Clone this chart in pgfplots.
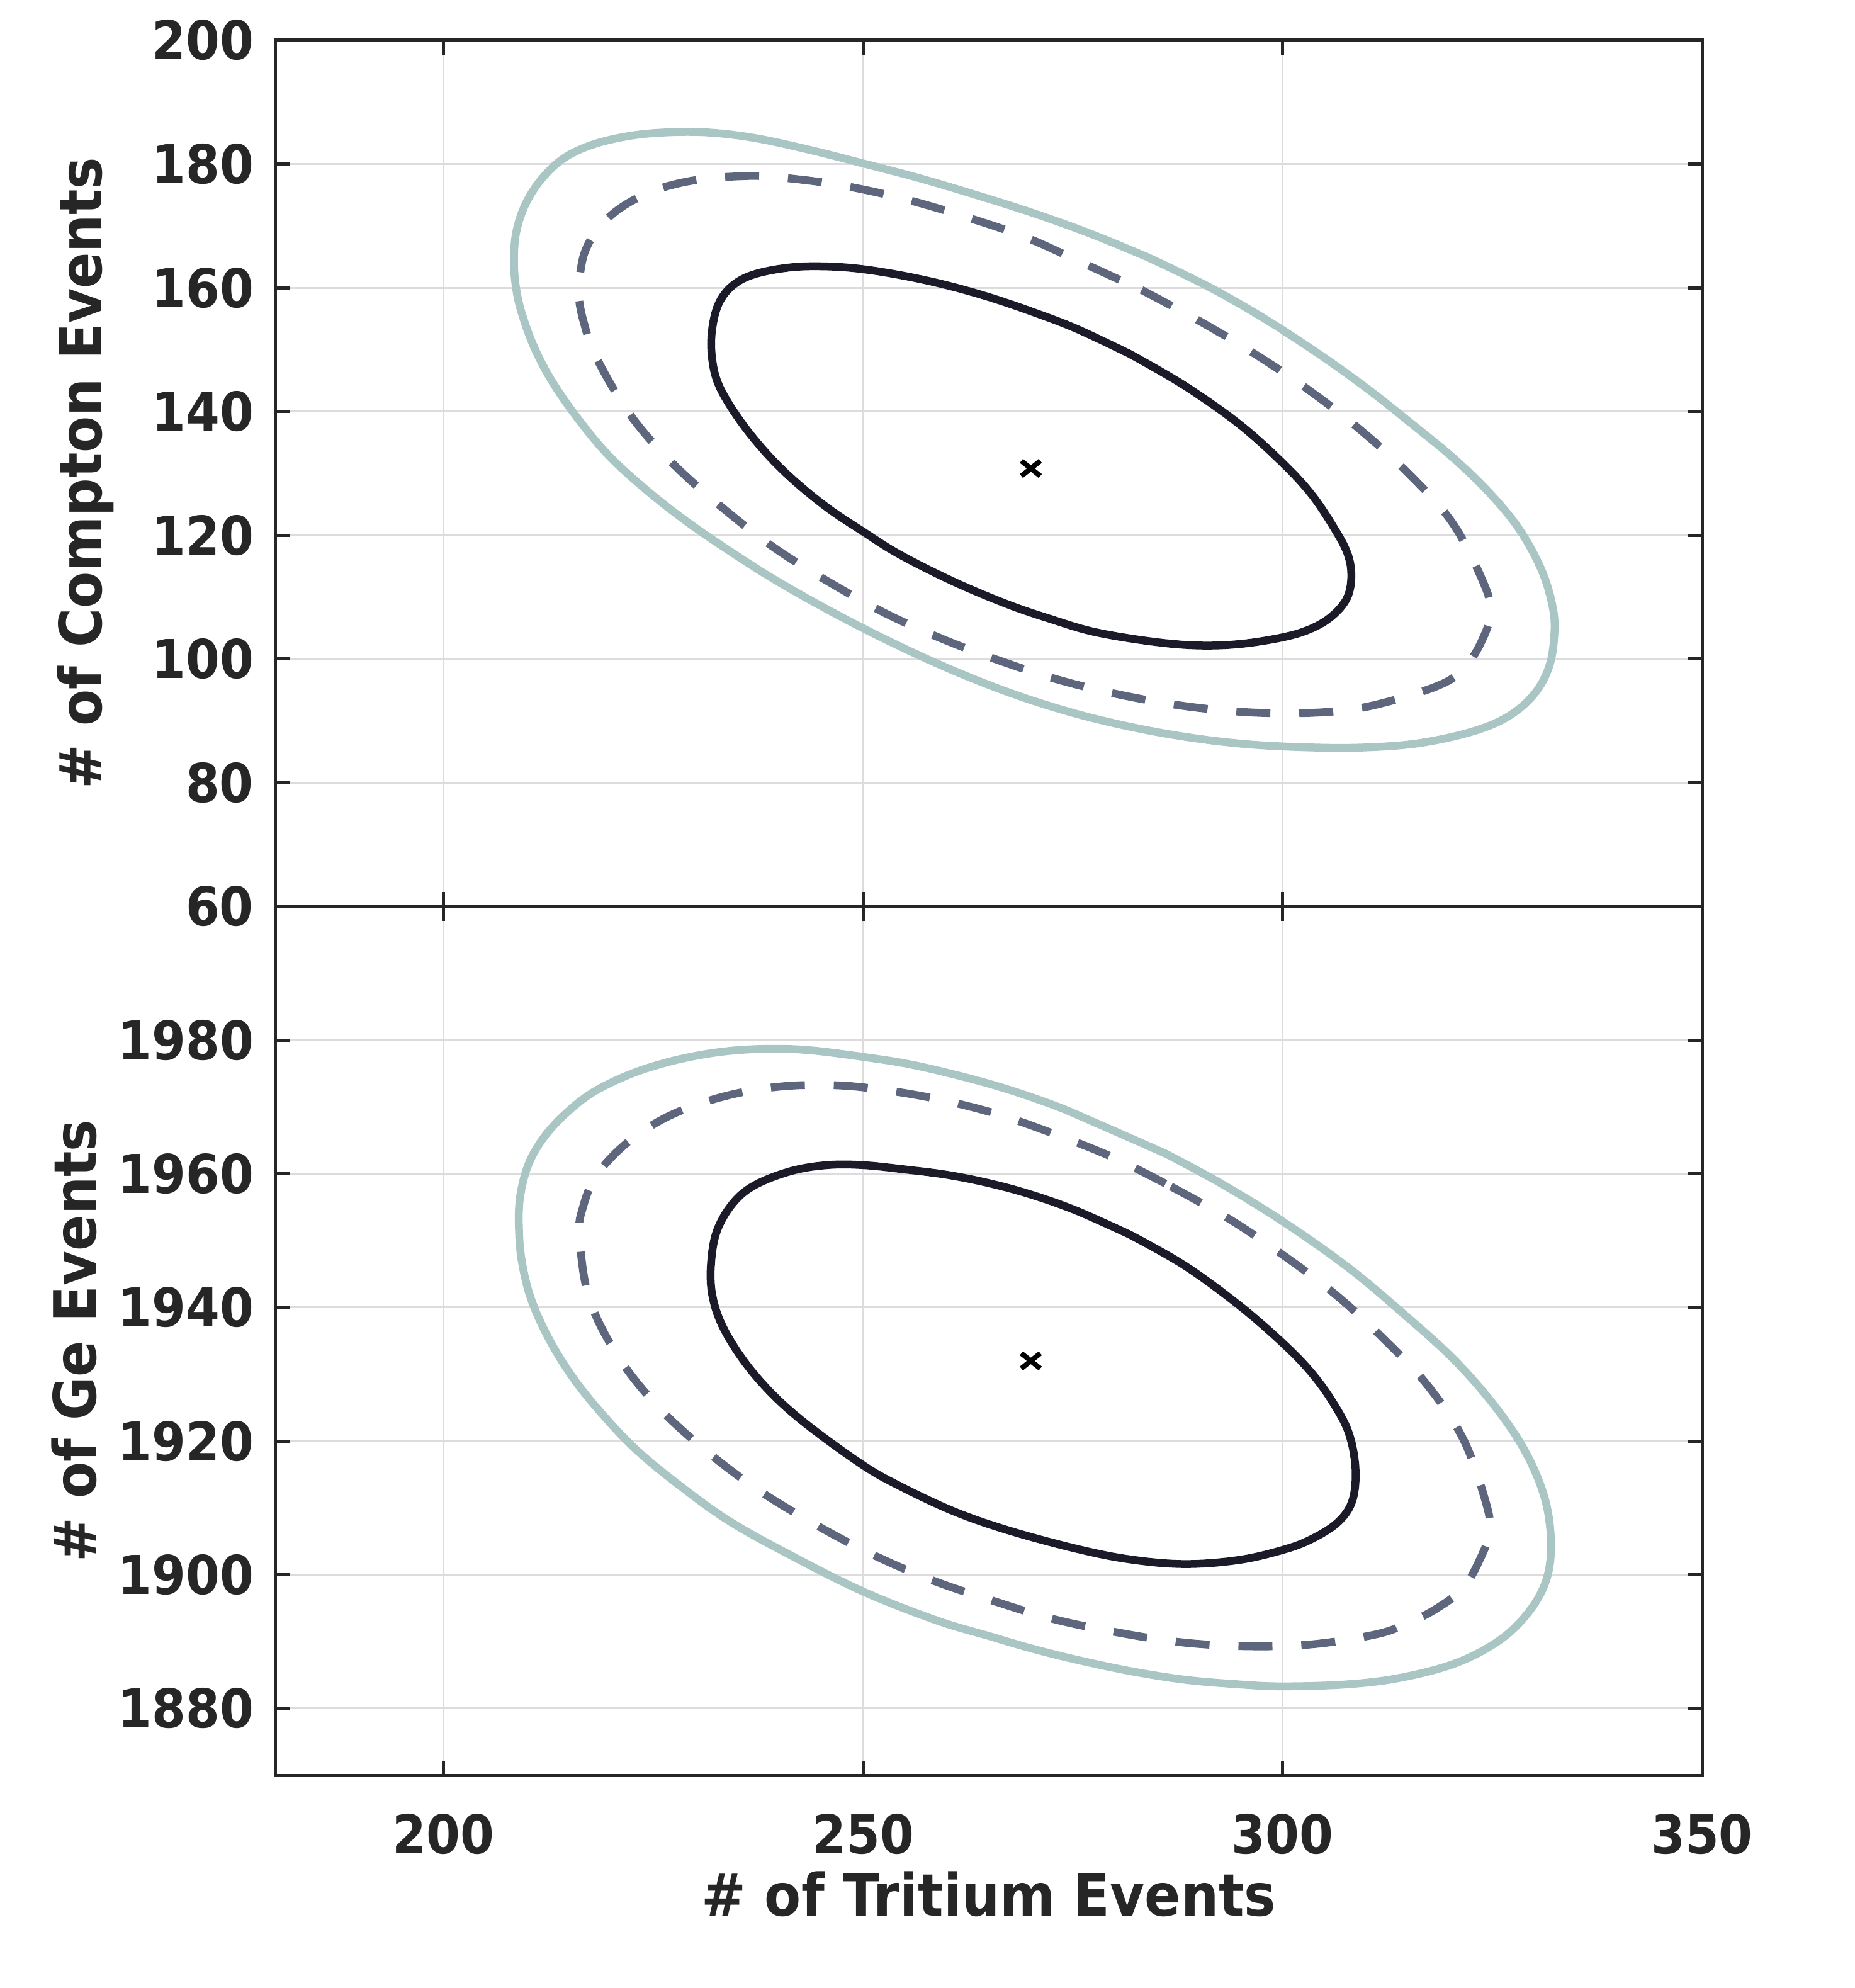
\documentclass[border=0pt]{standalone}
\usepackage{fontspec}
\setmainfont{DejaVu Sans}[FakeStretch=0.91]
\usepackage{pgfplots}
\pgfplotsset{compat=1.18}
\definecolor{outerc}{HTML}{A9C5C4}
\definecolor{midc}{HTML}{5E667E}
\definecolor{innerc}{HTML}{1A1A28}
\definecolor{axc}{HTML}{262626}
\definecolor{gridc}{HTML}{DCDCDC}
\pgfplotsset{
  myaxis/.style={
    scale only axis, width=226.6bp,
    xmin=180, xmax=350, xtick={200,250,300,350},
    grid=major, major grid style={draw=gridc, line width=0.3bp},
    axis line style={draw=axc, line width=0.5bp},
    tick style={draw=axc, line width=0.5bp},
    major tick length=2.3bp, tick align=inside,
    ticklabel style={font=\fontsize{8.5bp}{10bp}\selectfont\bfseries, text=axc},
    label style={font=\fontsize{9.3bp}{11bp}\selectfont\bfseries, text=axc},
    /pgf/number format/assume math mode=true,
    /pgf/number format/1000 sep={},
    xticklabel style={yshift=-2.6bp},
  },
  outerl/.style={draw=outerc, line width=1.25bp, smooth, tension=0.6, no marks},
  midl/.style={draw=midc, line width=1.25bp, smooth, tension=0.6, no marks, dash pattern=on 5.4bp off 4.6bp},
  innerl/.style={draw=innerc, line width=1.25bp, smooth, tension=0.6, no marks},
  centm/.style={only marks, mark=x, mark size=1.7bp, mark options={xscale=1.25, line width=0.8bp, draw=black}},
}
\begin{document}
\begin{tikzpicture}
\useasboundingbox (-43.8bp,-33.8bp) rectangle (250.9bp,282.0bp);
% bottom panel
\begin{axis}[myaxis, at={(0,0)}, anchor=south west, height=138bp,
  ymin=1870, ymax=2000, ytick={1880,1900,...,1980},
  xlabel={\# of Tritium Events}, ylabel={\# of Ge Events},
  xlabel style={at={(axis description cs:0.5,-0.1623)}, anchor=base},
  ylabel style={at={(axis description cs:-0.1262,0.5)}, anchor=base},
]
\addplot[outerl] coordinates {
(286.1,1963.0) (292.6,1958.6) (300.0,1952.9) (307.7,1946.1) (314.1,1939.4) (320.6,1932.0)
(325.75,1924.5) (329.2,1917.8) (331.35,1911.0) (332.0,1904.3) (331.35,1898.9) (329.2,1894.2)
(325.75,1890.1) (320.6,1886.75) (314.1,1884.6) (307.7,1883.6) (300.0,1883.3) (294.75,1883.6)
(288.3,1884.3) (281.8,1885.6) (275.4,1887.3) (270.0,1889.0) (265.1,1890.8) (258.7,1893.2)
(250.0,1897.5) (241.4,1902.9) (234.1,1908.0) (228.1,1913.4) (222.9,1918.8) (218.6,1924.5)
(215.2,1929.9) (212.4,1935.7) (210.4,1941.4) (209.35,1946.8) (209.0,1951.5) (209.1,1956.25)
(210.0,1961.0) (211.7,1965.0) (214.3,1968.7) (217.7,1972.1) (222.05,1974.8) (226.4,1976.6)
(230.7,1977.8) (235.0,1978.5) (239.3,1978.7) (243.6,1978.5) (250.0,1977.5) (256.5,1976.15)
(265.1,1973.45) (272.35,1970.45) (277.5,1967.75) (286.1,1963.0)
};
\addplot[midl] coordinates {
(286.7,1958.1) (293.5,1953.35) (300.0,1947.9) (306.2,1942.05) (311.9,1935.5) (317.25,1928.4)
(321.5,1920.4) (324.1,1911.4) (324.7,1906.65) (323.45,1902.1) (321.45,1897.9) (318.3,1894.9)
(315.0,1892.8) (311.2,1891.1) (303.6,1889.6) (295.8,1889.3) (287.9,1889.9) (280.2,1891.4)
(272.6,1893.4) (265.5,1896.1) (258.2,1899.2) (251.0,1903.1) (244.2,1907.6) (237.5,1912.7)
(231.35,1918.5) (225.6,1925.1) (220.8,1932.7) (217.35,1941.4) (216.2,1950.85) (216.6,1954.9)
(218.0,1959.3) (220.6,1963.2) (224.0,1966.6) (228.2,1969.4) (233.5,1971.6) (239.0,1972.9)
(244.5,1973.3) (250.3,1972.9) (258.0,1971.4) (265.55,1969.1) (272.5,1966.1) (279.8,1962.45)
(286.7,1958.1)
};
\addplot[innerl] coordinates {
(281.8,1950.9) (288.3,1946.3) (294.75,1940.4) (300.0,1934.7) (303.4,1930.3) (305.95,1925.9)
(307.9,1921.2) (308.7,1915.8) (308.3,1911.0) (306.55,1907.8) (303.4,1905.3) (300.0,1903.7)
(294.75,1902.2) (288.3,1901.6) (281.8,1902.3) (275.4,1903.9) (267.3,1906.65) (260.8,1909.5)
(254.35,1913.3) (250.0,1916.4) (243.6,1922.2) (239.3,1926.9) (235.8,1932.0) (233.2,1937.35)
(232.0,1942.1) (231.9,1946.8) (232.6,1951.5) (234.5,1955.6) (237.1,1958.3) (241.4,1960.4)
(245.7,1961.3) (250.0,1961.3) (255.0,1960.65) (260.0,1959.85) (265.0,1958.6) (270.0,1956.9)
(275.4,1954.5) (281.8,1950.9)
};
\addplot[centm] coordinates {(270,1932.0)};
\end{axis}
% top panel
\begin{axis}[myaxis, at={(0,138bp)}, anchor=south west, height=137.6bp,
  ymin=60, ymax=200, ytick={60,80,...,200}, xticklabels={},
  ylabel={\# of Compton Events},
  ylabel style={at={(axis description cs:-0.1222,0.5)}, anchor=base},
]
\addplot[outerl] coordinates {
(284.0,164.9) (291.0,160.3) (297.5,155.3) (304.0,149.6) (310.0,143.8) (315.5,137.9)
(320.6,132.2) (324.9,126.5) (328.3,120.8) (330.9,114.3) (332.2,108.4) (332.4,104.0)
(331.8,98.9) (330.1,94.5) (327.0,90.8) (322.7,88.3) (316.3,86.4) (309.8,85.7)
(303.4,85.7) (296.0,86.2) (289.0,87.3) (282.0,89.0) (275.0,91.3) (268.0,94.3)
(261.0,98.0) (254.0,102.3) (247.0,107.1) (240.0,112.4) (234.5,117.1) (229.0,122.2)
(224.2,127.3) (219.9,132.6) (216.5,138.0) (213.2,144.3) (210.9,150.1) (209.3,156.0)
(208.6,160.4) (208.4,164.8) (208.7,169.2) (209.8,173.6) (211.7,177.6) (214.3,180.9)
(217.7,183.1) (222.0,184.5) (226.4,185.1) (231.5,185.1) (237.1,184.2) (243.6,182.3)
(250.0,180.1) (256.5,177.8) (263.0,175.2) (270.0,172.2) (277.0,168.8) (284.0,164.9)
};
\addplot[midl] coordinates {
(283.2,159.65) (290.0,154.7) (296.7,149.3) (303.2,143.4) (309.3,137.0) (315.0,130.0)
(320.2,122.1) (323.8,112.8) (324.8,107.7) (323.7,102.8) (321.5,98.3) (318.2,95.5)
(310.8,92.5) (305.0,91.4) (297.2,91.3) (289.4,92.2) (281.8,93.9) (274.2,96.3)
(267.2,99.3) (259.9,103.0) (252.8,107.3) (246.0,112.4) (239.4,118.0) (233.2,124.5)
(227.4,131.5) (222.4,139.2) (218.3,148.5) (216.7,154.5) (216.1,159.0) (216.3,162.5)
(216.9,166.0) (218.3,169.3) (220.4,172.2) (223.1,174.5) (226.4,176.3) (230.5,177.5)
(235.0,178.0) (239.1,177.95) (246.8,176.7) (254.5,174.5) (261.9,171.6) (269.3,168.2)
(276.05,164.1) (283.2,159.65)
};
\addplot[innerl] coordinates {
(281.8,149.3) (288.3,144.2) (294.8,138.0) (300.0,131.7) (303.4,126.7) (305.95,121.6)
(307.7,117.2) (308.2,113.5) (307.7,109.9) (305.95,107.0) (303.4,104.9) (300.0,103.5)
(294.75,102.4) (289.6,102.2) (284.0,102.9) (277.5,104.4) (272.5,106.4) (267.3,108.8)
(260.8,112.5) (254.35,116.9) (250.0,120.6) (245.7,124.5) (241.4,129.3) (238.0,134.0)
(235.0,139.2) (232.8,144.3) (232.0,148.7) (232.0,153.1) (232.8,157.45) (234.5,160.4)
(237.1,162.2) (241.4,163.3) (245.7,163.45) (250.0,163.0) (255.0,161.9) (260.0,160.4)
(265.0,158.5) (270.0,156.2) (275.4,153.4) (281.8,149.3)
};
\addplot[centm] coordinates {(270,130.8)};
\end{axis}
\end{tikzpicture}
\end{document}
